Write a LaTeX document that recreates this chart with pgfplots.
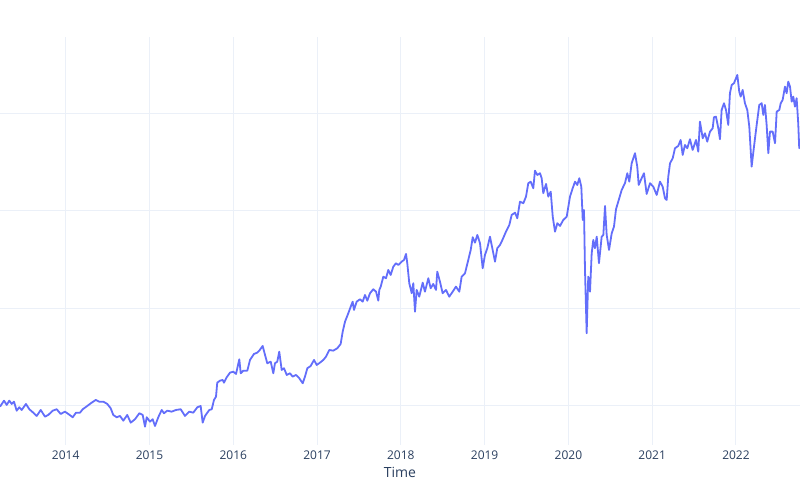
\documentclass[border=0pt]{standalone}
\usepackage{pgfplots}
\pgfplotsset{compat=1.18}
\usepackage{fontspec}
\setmainfont{Open Sans}
\definecolor{linec}{HTML}{636EFA}
\definecolor{gridc}{HTML}{EBF0F8}
\definecolor{textc}{HTML}{2A3F5F}
\begin{document}
\begin{tikzpicture}
\begin{axis}[
  at={(0,0)}, anchor=south west,
  scale only axis, width=400pt, height=204pt,
  xmin=2013.216, xmax=2022.764, ymin=30, ymax=239,
  axis line style={draw=none},
  major tick length=0pt,
  xtick={2014,2015,2016,2017,2018,2019,2020,2021,2022},
  xticklabels={2014,2015,2016,2017,2018,2019,2020,2021,2022},
  ytick={50,100,150,200},
  ymajorticks=false,
  xmajorgrids, ymajorgrids,
  grid style={color=gridc, line width=0.5pt},
  xticklabel style={font=\fontsize{6}{7}\selectfont, text=textc, anchor=north, inner sep=0pt, yshift=-2.8pt},
  xlabel={Time},
  xlabel style={font=\fontsize{7}{8}\selectfont, text=textc, anchor=center, at={(axis description cs:0.5,0)}, yshift=-13.5pt},
  clip=true,
]
\addplot[color=linec, line width=0.9pt, line join=round] table {
x y
2013.216 49.64
2013.264 52.72
2013.296 50.51
2013.327 52.72
2013.356 51.02
2013.383 52.20
2013.415 47.59
2013.446 49.33
2013.475 47.95
2013.526 51.02
2013.566 48.31
2013.613 46.57
2013.654 44.88
2013.702 47.95
2013.753 44.52
2013.792 45.39
2013.845 47.59
2013.893 48.31
2013.940 45.90
2013.992 47.08
2014.031 45.90
2014.084 44.21
2014.123 46.57
2014.171 46.57
2014.203 48.31
2014.258 50.00
2014.310 51.69
2014.358 53.07
2014.401 52.20
2014.449 52.20
2014.497 51.02
2014.537 48.82
2014.568 45.39
2014.609 44.21
2014.648 44.88
2014.688 42.47
2014.735 45.39
2014.776 41.44
2014.827 43.19
2014.879 46.26
2014.919 45.39
2014.947 39.40
2014.967 44.21
2015.006 41.96
2015.038 43.19
2015.066 39.75
2015.105 44.21
2015.146 47.95
2015.173 46.26
2015.213 47.59
2015.265 47.08
2015.317 47.95
2015.373 48.31
2015.424 44.88
2015.475 47.08
2015.523 46.57
2015.571 49.33
2015.611 50.00
2015.635 41.44
2015.663 44.88
2015.714 47.95
2015.743 48.31
2015.770 53.07
2015.794 54.76
2015.809 61.94
2015.842 62.96
2015.874 63.32
2015.889 61.94
2015.922 64.70
2015.961 67.06
2016.000 67.57
2016.033 66.39
2016.072 73.92
2016.089 66.75
2016.120 68.08
2016.168 68.08
2016.200 73.57
2016.247 76.64
2016.287 77.31
2016.311 78.33
2016.351 80.74
2016.379 76.13
2016.406 71.88
2016.447 72.69
2016.478 66.75
2016.498 71.88
2016.525 72.69
2016.549 77.82
2016.578 68.44
2016.606 69.31
2016.638 65.88
2016.677 66.75
2016.709 65.01
2016.749 65.88
2016.788 64.19
2016.829 61.63
2016.856 65.01
2016.884 69.31
2016.924 70.49
2016.964 73.57
2016.996 71.00
2017.035 72.18
2017.075 73.57
2017.107 75.26
2017.146 78.69
2017.194 78.33
2017.242 79.56
2017.282 81.76
2017.306 88.06
2017.334 93.19
2017.373 97.49
2017.402 100.87
2017.425 103.43
2017.441 99.18
2017.473 103.43
2017.513 104.66
2017.545 103.43
2017.572 106.86
2017.600 103.94
2017.632 107.74
2017.671 109.78
2017.704 108.56
2017.731 103.94
2017.743 109.43
2017.760 111.12
2017.791 116.24
2017.823 115.42
2017.850 119.67
2017.879 117.11
2017.910 121.36
2017.942 123.10
2017.970 122.23
2018.010 123.92
2018.038 124.80
2018.062 127.87
2018.077 123.10
2018.101 112.86
2018.130 107.74
2018.149 112.86
2018.169 98.31
2018.189 109.43
2018.220 105.99
2018.261 113.17
2018.288 108.56
2018.328 115.42
2018.356 110.30
2018.387 112.50
2018.420 109.43
2018.435 118.80
2018.467 113.68
2018.499 107.74
2018.539 109.43
2018.578 105.99
2018.619 108.56
2018.658 111.12
2018.698 108.56
2018.726 116.24
2018.766 117.98
2018.805 124.80
2018.834 129.92
2018.858 136.42
2018.885 133.66
2018.913 137.60
2018.945 133.35
2018.977 120.54
2019.004 127.36
2019.032 130.79
2019.064 136.73
2019.096 129.92
2019.124 123.92
2019.151 130.79
2019.184 132.48
2019.216 135.40
2019.255 139.29
2019.295 142.73
2019.323 147.85
2019.363 149.03
2019.390 146.16
2019.422 154.66
2019.462 153.84
2019.494 157.22
2019.521 164.09
2019.550 164.91
2019.581 161.53
2019.601 170.54
2019.629 168.34
2019.661 169.21
2019.681 166.65
2019.700 158.97
2019.733 163.73
2019.760 157.22
2019.789 159.78
2019.813 146.98
2019.840 139.29
2019.868 143.60
2019.900 142.21
2019.939 145.29
2019.980 146.98
2020.019 157.22
2020.051 161.53
2020.079 164.91
2020.106 163.22
2020.130 166.65
2020.154 162.35
2020.171 145.29
2020.186 150.41
2020.198 119.67
2020.218 87.24
2020.237 116.24
2020.258 108.56
2020.278 128.23
2020.297 135.04
2020.317 130.79
2020.338 136.73
2020.365 123.10
2020.397 136.73
2020.417 137.60
2020.437 152.46
2020.457 137.60
2020.485 129.92
2020.517 138.47
2020.544 141.85
2020.568 150.77
2020.595 154.66
2020.636 160.66
2020.675 164.09
2020.703 169.21
2020.727 164.91
2020.755 174.33
2020.795 179.46
2020.822 172.59
2020.839 163.22
2020.874 166.65
2020.902 169.21
2020.934 158.61
2020.974 164.09
2021.013 162.35
2021.054 158.09
2021.093 164.91
2021.125 162.35
2021.153 156.40
2021.173 155.53
2021.192 167.47
2021.213 174.33
2021.245 176.89
2021.272 182.02
2021.311 183.20
2021.340 186.27
2021.364 178.59
2021.391 183.71
2021.419 182.02
2021.451 186.63
2021.483 181.15
2021.523 186.27
2021.550 180.28
2021.570 195.65
2021.603 187.14
2021.630 189.70
2021.657 185.40
2021.690 190.52
2021.722 192.26
2021.737 197.90
2021.761 198.21
2021.789 192.26
2021.809 186.63
2021.829 201.64
2021.857 205.07
2021.881 201.64
2021.908 193.95
2021.928 210.19
2021.949 214.45
2021.976 215.32
2022.000 217.88
2022.016 219.57
2022.039 211.01
2022.056 208.45
2022.080 211.89
2022.107 205.07
2022.135 201.64
2022.159 193.08
2022.187 172.59
2022.215 182.84
2022.247 193.95
2022.278 204.20
2022.307 205.07
2022.326 199.08
2022.346 204.20
2022.366 193.95
2022.386 179.46
2022.406 190.52
2022.438 190.52
2022.466 184.58
2022.486 200.77
2022.517 201.64
2022.534 205.07
2022.557 206.76
2022.585 213.58
2022.605 210.19
2022.624 216.14
2022.645 213.58
2022.665 205.89
2022.684 208.45
2022.704 203.33
2022.724 207.63
2022.743 194.83
2022.755 182.02
2022.764 186.27
};
\end{axis}
\pgfresetboundingbox
\path (0,-27.5pt) rectangle (400pt,222.5pt);
\end{tikzpicture}
\end{document}
